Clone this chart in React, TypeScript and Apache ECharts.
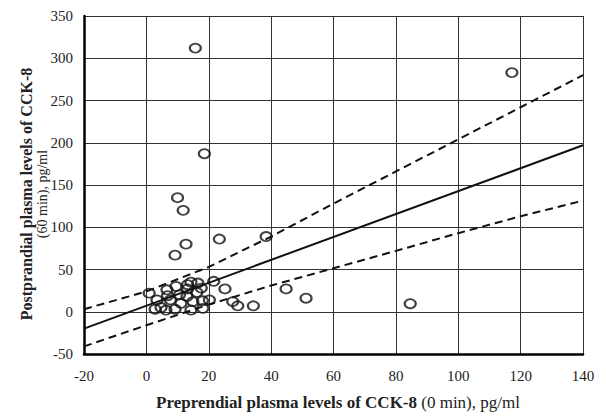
import React, { useEffect, useRef } from "react";
import * as echarts from "echarts";

// Scatter points (preprandial 0 min, postprandial 60 min), pg/ml
const pointsX = [
  15.7, 18.6, 10.0, 11.8, 12.7, 9.2, 23.4, 38.4, 44.8, 51.2, 84.6, 117.2,
  0.9, 2.8, 4.7, 3.4, 6.6, 7.7, 9.5, 9.2, 11.1, 10.6, 13.2, 14.3, 16.5, 16.2,
  14.9, 14.3, 18.1, 20.2, 21.6, 25.2, 27.7, 29.3, 34.3, 13.0, 6.3, 6.8, 18.0,
  13.2, 17.6,
];
const pointsY = [
  312, 187, 135, 120, 80, 67, 86, 89, 27, 16, 9.5, 283,
  22, 3, 5, 14, 26, 14, 30, 3, 10, 20, 27, 35, 34, 23,
  12, 2, 4, 14, 36, 27, 12, 7, 7, 18, 2, 19, 13,
  32, 28,
];

// Regression line
const fitX = [-20, 140];
const fitY = [-20, 197];

// Confidence band (dashed)
const bandX = [-20, 0, 20, 40, 60, 80, 100, 120, 140];
const upperBand = [3, 24, 53, 89, 128, 166, 204, 242, 280];
const lowerBand = [-41, -16, 8.5, 31, 51.5, 72, 93, 113, 131.5];

const xMin = -20, xMax = 140, xStep = 20;
const yMin = -50, yMax = 350, yStep = 50;

const xTitleBold = "Preprendial plasma levels of CCK-8";
const xTitleNormal = " (0 min), pg/ml";
const yTitleLine1 = "Postprandial plasma levels of CCK-8";
const yTitleLine2 = "(60 min), pg/ml";

const zip = (a: number[], b: number[]) => a.map((v, i) => [v, b[i]]);

export default function App() {
  const ref = useRef<HTMLDivElement>(null);
  useEffect(() => {
    if (!ref.current) return;
    const chart = echarts.init(ref.current, undefined, { renderer: "svg" });
    const serif = "'Liberation Serif', 'Times New Roman', serif";
    chart.setOption({
      animation: false,
      backgroundColor: "#ffffff",
      grid: { left: 84, right: 23, top: 16, bottom: 63 },
      xAxis: {
        type: "value",
        min: xMin,
        max: xMax,
        interval: xStep,
        axisLine: { show: true, onZero: false, lineStyle: { color: "#000", width: 2.5 } },
        axisTick: { show: false },
        splitLine: { show: true, lineStyle: { color: "#333", width: 1 } },
        axisLabel: { color: "#222", fontFamily: serif, fontSize: 15, margin: 14 },
      },
      yAxis: {
        type: "value",
        min: yMin,
        max: yMax,
        interval: yStep,
        axisLine: { show: true, onZero: false, lineStyle: { color: "#000", width: 2.5 } },
        axisTick: { show: false },
        splitLine: { show: true, lineStyle: { color: "#333", width: 1 } },
        axisLabel: { color: "#222", fontFamily: serif, fontSize: 15, margin: 11 },
      },
      graphic: [
        {
          type: "text",
          x: 338,
          y: 402,
          style: {
            text: "{b|" + xTitleBold + "}{n|" + xTitleNormal + "}",
            align: "center",
            verticalAlign: "middle",
            rich: {
              b: { fontFamily: serif, fontSize: 17, fontWeight: "bold", fill: "#222" },
              n: { fontFamily: serif, fontSize: 17, fill: "#222" },
            },
          },
        },
        {
          type: "text",
          x: 26,
          y: 194,
          rotation: Math.PI / 2,
          style: {
            text: yTitleLine1,
            align: "center",
            verticalAlign: "middle",
            fontFamily: serif,
            fontSize: 16,
            fontWeight: "bold",
            fill: "#222",
          },
        },
        {
          type: "text",
          x: 42,
          y: 194,
          rotation: Math.PI / 2,
          style: {
            text: yTitleLine2,
            align: "center",
            verticalAlign: "middle",
            fontFamily: serif,
            fontSize: 14,
            fill: "#222",
          },
        },
      ],
      series: [
        {
          type: "line",
          data: zip(fitX, fitY),
          showSymbol: false,
          lineStyle: { color: "#111", width: 2 },
          silent: true,
          z: 2,
        },
        {
          type: "line",
          data: zip(bandX, upperBand),
          showSymbol: false,
          lineStyle: { color: "#111", width: 2, type: [8, 5] },
          silent: true,
          z: 2,
        },
        {
          type: "line",
          data: zip(bandX, lowerBand),
          showSymbol: false,
          lineStyle: { color: "#111", width: 2, type: [8, 5] },
          silent: true,
          z: 2,
        },
        {
          type: "scatter",
          data: zip(pointsX, pointsY),
          symbol: "circle",
          symbolSize: [11, 9],
          itemStyle: { color: "rgba(255,255,255,0)", borderColor: "#111", borderWidth: 2 },
          z: 3,
        },
      ],
    });
    return () => chart.dispose();
  }, []);
  return (
    <div
      ref={ref}
      style={{ position: "fixed", left: 0, top: 0, width: 606, height: 417 }}
    />
  );
}
